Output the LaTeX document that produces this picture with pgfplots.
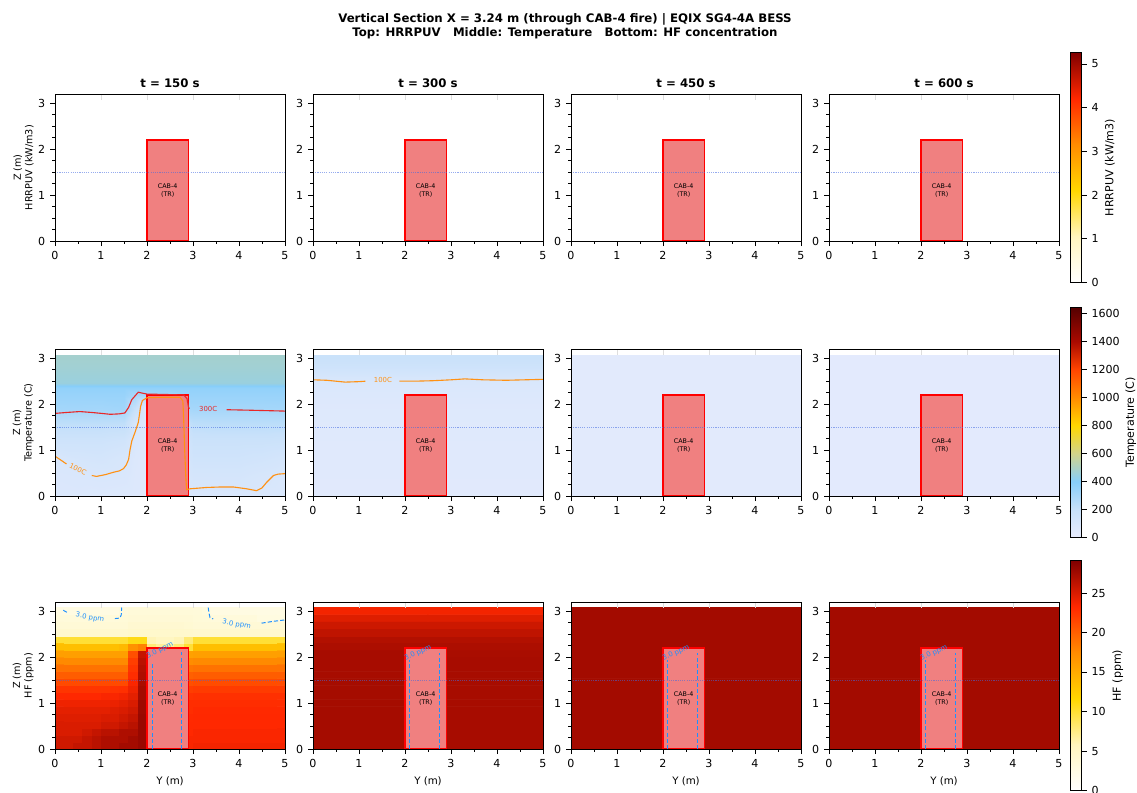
\documentclass[border=0pt]{standalone}
\usepackage{fontspec}
\setmainfont{DejaVu Sans}
\usepackage{pgfplots}
\pgfplotsset{compat=1.18}

\definecolor{lcoral}{RGB}{240,128,128}
\definecolor{hline}{RGB}{65,105,225}
\definecolor{cred}{RGB}{232,40,40}
\definecolor{corange}{RGB}{255,145,20}
\definecolor{dblue}{RGB}{30,144,255}
\definecolor{gridc}{RGB}{222,222,222}

\pgfplotsset{
  colormap={hfmap}{rgb255(0cm)=(255,255,255) rgb255(1cm)=(255,251,224) rgb255(2cm)=(255,245,190) rgb255(4cm)=(255,215,0) rgb255(6cm)=(255,140,0) rgb255(8cm)=(255,40,0) rgb255(10cm)=(128,0,0)},
  colormap={tempmap}{rgb255(0cm)=(232,236,253) rgb255(2cm)=(200,225,250) rgb255(4cm)=(135,206,250) rgb255(6cm)=(210,212,140) rgb255(8cm)=(255,215,0) rgb255(10cm)=(255,140,0) rgb255(12cm)=(255,69,0) rgb255(14cm)=(170,10,0) rgb255(16.43cm)=(85,0,0)},
  panel/.style={
    scale only axis, width=165.6bp, height=105.98bp,
    xmin=0, xmax=5, ymin=0, ymax=3.2,
    anchor=north west, axis on top,
    xtick={0,1,2,3,4,5}, ytick={0,1,2,3},
    minor x tick num=1, minor y tick num=3,
    tick align=outside, tick pos=left,
    major tick length=3.5bp, minor tick length=2bp,
    tick style={black, line width=0.6bp},
    axis line style={line width=0.6bp},
    tick label style={font=\fontsize{8}{9.6}\selectfont},
    /pgf/number format/assume math mode=true,
    /pgf/number format/1000 sep={},
    every axis y label/.style={at={(axis description cs:-0.092,0.5)}, rotate=90, anchor=south, align=center, inner sep=0pt, font=\fontsize{7}{8.2}\selectfont},
    every axis x label/.style={at={(axis description cs:0.5,0)}, anchor=north, yshift=-19.4bp, inner sep=0pt, font=\fontsize{7.4}{9}\selectfont},
    every axis title/.style={at={(0.5,1)}, anchor=south, yshift=4bp, inner sep=0pt, font=\bfseries\fontsize{8.5}{10}\selectfont},
  },
  cbar/.style={
    colorbar,
    colorbar style={
      at={([xshift=6.5bp]parent axis.east)}, anchor=west,
      scale only axis, width=7.92bp, height=165.6bp,
      yticklabel pos=right, ytick pos=right,
      tick align=outside, major tick length=3.5bp,
      tick style={black, line width=0.6bp},
      axis line style={line width=0.6bp},
      tick label style={font=\fontsize{8}{9.6}\selectfont},
      /pgf/number format/assume math mode=true,
      /pgf/number format/1000 sep={},
      #1
    },
  },
}

\newcommand{\panelcommon}{%
  \addplot[gridc, line width=0.6bp, unbounded coords=jump, forget plot] coordinates {(1,3.08) (1,3.2) (1,nan) (2,3.08) (2,3.2) (2,nan) (3,3.08) (3,3.2) (3,nan) (4,3.08) (4,3.2)};
  \addplot[fill=lcoral, draw=red, line width=1.1bp, forget plot] coordinates {(2,0) (2,2.2) (2.9,2.2) (2.9,0)} -- cycle;
  \node[font=\fontsize{4.6}{5.4}\selectfont, align=center, text=black] at (axis cs:2.45,1.1) {CAB-4\\(TR)};
  \addplot[hline, opacity=0.55, line width=0.6bp, dash pattern=on 0.8bp off 0.8bp, forget plot] coordinates {(0,1.5) (5,1.5)};
}
\newcommand{\hfbox}{%
  \addplot[dblue, line width=0.65bp, dash pattern=on 3bp off 1.5bp, forget plot] coordinates {(2.10,0) (2.10,1.93)};
  \addplot[dblue, line width=0.65bp, dash pattern=on 3bp off 1.5bp, forget plot] coordinates {(2.74,0) (2.74,2.09)};
  \node[text=dblue, rotate=24, font=\fontsize{5}{6}\selectfont] at (axis cs:2.28,2.09) {3.0 ppm};
}

\begin{document}
\begin{tikzpicture}
\path[use as bounding box] (0,0) rectangle (818.64bp,570.96bp);
\node[anchor=base, font=\bfseries\fontsize{8.5}{10}\selectfont] at (406.8bp,554.5bp) {Vertical Section X = 3.24 m (through CAB-4 fire) | EQIX SG4-4A BESS};
\node[anchor=base, font=\bfseries\fontsize{8.5}{10}\selectfont] at (406.8bp,544.5bp) {Top: HRRPUV\hspace{1.04em}Middle: Temperature\hspace{1.04em}Bottom: HF concentration};

% ================= ROW 1 : HRRPUV =================
\begin{axis}[panel, at={(39.6bp,503.28bp)}, title={t = 150 s}, ylabel={Z (m)\\HRRPUV (kW/m3)}, colormap name=hfmap, point meta min=0, point meta max=5.26]
\addplot[matrix plot*, mesh/cols=2, point meta=explicit, forget plot] table[row sep=\\, header=false, x expr={1.25+2.5*mod(\coordindex,2)}, y expr={0.77+1.54*floor(\coordindex/2+0.001)}, meta index=0] {0\\ 0\\ 0\\ 0\\};
\panelcommon
\end{axis}
\begin{axis}[panel, at={(225.36bp,503.28bp)}, title={t = 300 s}, colormap name=hfmap, point meta min=0, point meta max=5.26]
\addplot[matrix plot*, mesh/cols=2, point meta=explicit, forget plot] table[row sep=\\, header=false, x expr={1.25+2.5*mod(\coordindex,2)}, y expr={0.77+1.54*floor(\coordindex/2+0.001)}, meta index=0] {0\\ 0\\ 0\\ 0\\};
\panelcommon
\end{axis}
\begin{axis}[panel, at={(411.12bp,503.28bp)}, title={t = 450 s}, colormap name=hfmap, point meta min=0, point meta max=5.26]
\addplot[matrix plot*, mesh/cols=2, point meta=explicit, forget plot] table[row sep=\\, header=false, x expr={1.25+2.5*mod(\coordindex,2)}, y expr={0.77+1.54*floor(\coordindex/2+0.001)}, meta index=0] {0\\ 0\\ 0\\ 0\\};
\panelcommon
\end{axis}
\begin{axis}[panel, at={(596.88bp,503.28bp)}, title={t = 600 s}, colormap name=hfmap, point meta min=0, point meta max=5.26,
  cbar={ytick={0,1,2,3,4,5}, every axis y label/.style={at={(axis description cs:3.55,0.5)}, rotate=90, anchor=center, font=\fontsize{8}{9.6}\selectfont}, ylabel={HRRPUV (kW/m3)}}]
\addplot[matrix plot*, mesh/cols=2, point meta=explicit, forget plot] table[row sep=\\, header=false, x expr={1.25+2.5*mod(\coordindex,2)}, y expr={0.77+1.54*floor(\coordindex/2+0.001)}, meta index=0] {0\\ 0\\ 0\\ 0\\};
\panelcommon
\end{axis}

% ================= ROW 2 : Temperature =================
\begin{axis}[panel, at={(39.6bp,319.68bp)}, ylabel={Z (m)\\Temperature (C)}, colormap name=tempmap, point meta min=0, point meta max=1643]
\addplot[surf, shader=interp, mesh/cols=13, point meta=explicit, forget plot] table[row sep=\\, meta index=2] {
x y c\\
0 0 80\\ 0.5 0 80\\ 1 0 75\\ 1.5 0 70\\ 1.75 0 65\\ 2 0 60\\ 2.5 0 50\\ 2.9 0 90\\ 3 0 90\\ 3.5 0 90\\ 4 0 90\\ 4.5 0 90\\ 5 0 90\\
0 0.4 85\\ 0.5 0.4 90\\ 1 0.4 95\\ 1.5 0.4 90\\ 1.75 0.4 70\\ 2 0.4 60\\ 2.5 0.4 50\\ 2.9 0.4 110\\ 3 0.4 120\\ 3.5 0.4 120\\ 4 0.4 120\\ 4.5 0.4 105\\ 5 0.4 95\\
0 0.8 100\\ 0.5 0.8 118\\ 1 0.8 125\\ 1.5 0.8 105\\ 1.75 0.8 75\\ 2 0.8 60\\ 2.5 0.8 50\\ 2.9 0.8 130\\ 3 0.8 150\\ 3.5 0.8 150\\ 4 0.8 150\\ 4.5 0.8 140\\ 5 0.8 125\\
0 1.2 160\\ 0.5 1.2 160\\ 1 1.2 160\\ 1.5 1.2 145\\ 1.75 1.2 90\\ 2 1.2 60\\ 2.5 1.2 50\\ 2.9 1.2 155\\ 3 1.2 180\\ 3.5 1.2 180\\ 4 1.2 180\\ 4.5 1.2 180\\ 5 1.2 175\\
0 1.6 230\\ 0.5 1.6 230\\ 1 1.6 230\\ 1.5 1.6 225\\ 1.75 1.6 115\\ 2 1.6 60\\ 2.5 1.6 50\\ 2.9 1.6 210\\ 3 1.6 235\\ 3.5 1.6 240\\ 4 1.6 240\\ 4.5 1.6 240\\ 5 1.6 240\\
0 1.9 310\\ 0.5 1.9 312\\ 1 1.9 310\\ 1.5 1.9 318\\ 1.75 1.9 200\\ 2 1.9 60\\ 2.5 1.9 50\\ 2.9 1.9 300\\ 3 1.9 305\\ 3.5 1.9 305\\ 4 1.9 306\\ 4.5 1.9 307\\ 5 1.9 308\\
0 2.2 345\\ 0.5 2.2 345\\ 1 2.2 345\\ 1.5 2.2 345\\ 1.75 2.2 300\\ 2 2.2 300\\ 2.5 2.2 320\\ 2.9 2.2 345\\ 3 2.2 345\\ 3.5 2.2 345\\ 4 2.2 345\\ 4.5 2.2 345\\ 5 2.2 345\\
0 2.35 365\\ 0.5 2.35 365\\ 1 2.35 365\\ 1.5 2.35 365\\ 1.75 2.35 365\\ 2 2.35 365\\ 2.5 2.35 365\\ 2.9 2.35 365\\ 3 2.35 365\\ 3.5 2.35 365\\ 4 2.35 365\\ 4.5 2.35 365\\ 5 2.35 365\\
0 2.45 450\\ 0.5 2.45 450\\ 1 2.45 450\\ 1.5 2.45 450\\ 1.75 2.45 450\\ 2 2.45 450\\ 2.5 2.45 450\\ 2.9 2.45 450\\ 3 2.45 450\\ 3.5 2.45 450\\ 4 2.45 450\\ 4.5 2.45 450\\ 5 2.45 450\\
0 2.8 470\\ 0.5 2.8 470\\ 1 2.8 470\\ 1.5 2.8 470\\ 1.75 2.8 470\\ 2 2.8 470\\ 2.5 2.8 470\\ 2.9 2.8 470\\ 3 2.8 470\\ 3.5 2.8 470\\ 4 2.8 470\\ 4.5 2.8 470\\ 5 2.8 470\\
0 3.08 480\\ 0.5 3.08 480\\ 1 3.08 480\\ 1.5 3.08 480\\ 1.75 3.08 480\\ 2 3.08 480\\ 2.5 3.08 480\\ 2.9 3.08 480\\ 3 3.08 480\\ 3.5 3.08 480\\ 4 3.08 480\\ 4.5 3.08 480\\ 5 3.08 480\\
};
\panelcommon
\addplot[cred, line width=0.8bp, forget plot] coordinates {(0,1.80) (0.25,1.82) (0.54,1.84) (0.8,1.82) (1.01,1.80) (1.2,1.78) (1.4,1.79) (1.52,1.81) (1.6,1.93) (1.67,2.10) (1.74,2.18) (1.81,2.26) (1.9,2.24) (2.0,2.22) (2.45,2.21) (2.8,2.2) (2.87,2.12) (2.9,1.95) (2.92,1.9)};
\addplot[cred, line width=0.8bp, forget plot] coordinates {(3.73,1.88) (4.2,1.87) (4.6,1.86) (5,1.85)};
\node[text=cred, font=\fontsize{5}{6}\selectfont] at (axis cs:3.33,1.9) {300C};
\addplot[corange, line width=0.8bp, forget plot] coordinates {(0,0.87) (0.12,0.79) (0.25,0.70)};
\addplot[corange, line width=0.8bp, forget plot] coordinates {(0.8,0.45) (0.9,0.43) (1.1,0.47) (1.27,0.52) (1.4,0.55) (1.49,0.6) (1.55,0.68) (1.6,0.8) (1.63,1.0) (1.67,1.2) (1.74,1.39) (1.81,1.6) (1.84,1.8) (1.86,1.95) (1.9,2.08) (2.0,2.14) (2.3,2.15) (2.6,2.15) (2.72,2.15) (2.78,2.07) (2.8,1.6) (2.82,1.0) (2.84,0.5) (2.86,0.14) (2.93,0.16) (3.3,0.19) (3.6,0.2) (3.88,0.2) (4.17,0.16) (4.38,0.12) (4.5,0.18) (4.6,0.3) (4.75,0.45) (4.85,0.48) (5,0.49)};
\node[text=corange, rotate=-25, font=\fontsize{5}{6}\selectfont] at (axis cs:0.5,0.58) {100C};
\end{axis}

\begin{axis}[panel, at={(225.36bp,319.68bp)}, colormap name=tempmap, point meta min=0, point meta max=1643]
\addplot[surf, shader=interp, mesh/cols=2, point meta=explicit, forget plot] table[row sep=\\, meta index=2] {
x y c\\
0 0 45\\ 5 0 45\\ 0 1.0 50\\ 5 1.0 50\\ 0 2.0 65\\ 5 2.0 65\\ 0 2.3 80\\ 5 2.3 80\\ 0 2.53 100\\ 5 2.53 100\\ 0 2.7 140\\ 5 2.7 140\\ 0 2.9 175\\ 5 2.9 175\\ 0 3.08 190\\ 5 3.08 190\\
};
\panelcommon
\addplot[corange, line width=0.8bp, forget plot] coordinates {(0,2.53) (0.3,2.52) (0.7,2.48) (1.0,2.49) (1.14,2.50)};
\addplot[corange, line width=0.8bp, forget plot] coordinates {(1.88,2.50) (2.2,2.50) (2.6,2.51) (3.0,2.53) (3.3,2.55) (3.7,2.53) (4.2,2.52) (5,2.54)};
\node[text=corange, font=\fontsize{5}{6}\selectfont] at (axis cs:1.52,2.52) {100C};
\end{axis}

\begin{axis}[panel, at={(411.12bp,319.68bp)}, colormap name=tempmap, point meta min=0, point meta max=1643]
\addplot[surf, shader=interp, mesh/cols=2, point meta=explicit, forget plot] table[row sep=\\, meta index=2] {
x y c\\
0 0 35\\ 5 0 35\\ 0 3.08 40\\ 5 3.08 40\\
};
\panelcommon
\end{axis}

\begin{axis}[panel, at={(596.88bp,319.68bp)}, colormap name=tempmap, point meta min=0, point meta max=1643,
  cbar={ytick={0,200,400,600,800,1000,1200,1400,1600}, every axis y label/.style={at={(axis description cs:5.45,0.5)}, rotate=90, anchor=center, font=\fontsize{8}{9.6}\selectfont}, ylabel={Temperature (C)}}]
\addplot[surf, shader=interp, mesh/cols=2, point meta=explicit, forget plot] table[row sep=\\, meta index=2] {
x y c\\
0 0 28\\ 5 0 28\\ 0 3.08 32\\ 5 3.08 32\\
};
\panelcommon
\end{axis}

% ================= ROW 3 : HF =================
\begin{axis}[panel, at={(39.6bp,137.52bp)}, ylabel={Z (m)\\HF (ppm)}, xlabel={Y (m)}, colormap name=hfmap, point meta min=0, point meta max=29.1]
\addplot[matrix plot*, mesh/cols=25, point meta=explicit, forget plot] table[row sep=\\, header=false, x expr={0.1+0.2*mod(\coordindex,25)}, y expr={0.077+0.154*floor(\coordindex/25+0.001)}, meta index=0] {
25.5\\ 25.5\\ 26\\ 26\\ 26.5\\ 27\\ 27\\ 27.5\\ 27.5\\ 28\\ 0\\ 0\\ 0\\ 0\\ 23.5\\ 23.8\\ 23.8\\ 23.8\\ 23.8\\ 23.8\\ 23.8\\ 23.8\\ 23.8\\ 23.8\\ 23.8\\
25.5\\ 25.5\\ 25.5\\ 26\\ 26.5\\ 27\\ 27\\ 27\\ 27.5\\ 28\\ 0\\ 0\\ 0\\ 0\\ 23.5\\ 23.5\\ 23.5\\ 23.5\\ 23.5\\ 23.5\\ 23.5\\ 23.5\\ 23.5\\ 23.5\\ 23.5\\
25\\ 25\\ 25\\ 25.5\\ 26\\ 26.5\\ 26.5\\ 27\\ 27\\ 28\\ 0\\ 0\\ 0\\ 0\\ 23.3\\ 23.5\\ 23.5\\ 23.5\\ 23.5\\ 23.5\\ 23.5\\ 23.5\\ 23.5\\ 23.5\\ 23.5\\
25\\ 25\\ 25\\ 25\\ 25\\ 25.5\\ 25.5\\ 26\\ 26.5\\ 28\\ 0\\ 0\\ 0\\ 0\\ 23.3\\ 23.3\\ 23.3\\ 23.3\\ 23.3\\ 23.3\\ 23.3\\ 23.3\\ 23.3\\ 23.3\\ 23.3\\
24.8\\ 24.8\\ 24.8\\ 24.8\\ 24.8\\ 25\\ 25\\ 25.5\\ 26\\ 28\\ 0\\ 0\\ 0\\ 0\\ 23.2\\ 23.3\\ 23.3\\ 23.3\\ 23.3\\ 23.3\\ 23.3\\ 23.3\\ 23.3\\ 23.3\\ 23.3\\
24.5\\ 24.5\\ 24.5\\ 24.5\\ 24.5\\ 24.5\\ 24.8\\ 25\\ 25.5\\ 27.8\\ 0\\ 0\\ 0\\ 0\\ 23\\ 23.2\\ 23.2\\ 23.2\\ 23.2\\ 23.2\\ 23.2\\ 23.2\\ 23.2\\ 23.2\\ 23.2\\
24\\ 24\\ 24\\ 24\\ 24\\ 24\\ 24.2\\ 24.5\\ 25\\ 27.8\\ 0\\ 0\\ 0\\ 0\\ 23\\ 23\\ 23\\ 23\\ 23\\ 23\\ 23\\ 23\\ 23\\ 23\\ 23\\
23.3\\ 23.3\\ 23.3\\ 23.3\\ 23.3\\ 23.5\\ 23.5\\ 23.8\\ 24.5\\ 27.5\\ 0\\ 0\\ 0\\ 0\\ 22.7\\ 22.8\\ 22.8\\ 22.8\\ 22.8\\ 22.8\\ 22.8\\ 22.8\\ 22.8\\ 22.8\\ 22.8\\
22.5\\ 22.5\\ 22.5\\ 22.5\\ 22.5\\ 22.5\\ 22.7\\ 22.8\\ 24\\ 27.5\\ 0\\ 0\\ 0\\ 0\\ 22\\ 22.2\\ 22.2\\ 22.2\\ 22.2\\ 22.2\\ 22.2\\ 22.2\\ 22.2\\ 22.2\\ 22.2\\
21.3\\ 21.3\\ 21.3\\ 21.3\\ 21.3\\ 21.3\\ 21.3\\ 21.3\\ 23.5\\ 27.2\\ 0\\ 0\\ 0\\ 0\\ 21\\ 21.2\\ 21.2\\ 21.2\\ 21.2\\ 21.2\\ 21.2\\ 21.2\\ 21.2\\ 21.2\\ 21.2\\
20.2\\ 20.2\\ 20.2\\ 20.2\\ 20.2\\ 20.2\\ 20.2\\ 20.2\\ 23\\ 27\\ 0\\ 0\\ 0\\ 0\\ 20\\ 20.2\\ 20.2\\ 20.2\\ 20.2\\ 20.2\\ 20.2\\ 20.2\\ 20.2\\ 20.2\\ 20.2\\
19\\ 19\\ 19\\ 19\\ 19\\ 19\\ 19\\ 19\\ 22.5\\ 26.8\\ 0\\ 0\\ 0\\ 0\\ 18.8\\ 19\\ 19\\ 19\\ 19\\ 19\\ 19\\ 19\\ 19\\ 19\\ 19\\
17.6\\ 17.6\\ 17.6\\ 17.6\\ 17.6\\ 17.6\\ 17.6\\ 17.6\\ 22\\ 26.5\\ 0\\ 0\\ 0\\ 0\\ 17.4\\ 17.6\\ 17.6\\ 17.6\\ 17.6\\ 17.6\\ 17.6\\ 17.6\\ 17.6\\ 17.6\\ 17.6\\
16\\ 16\\ 16\\ 16\\ 16\\ 16\\ 16\\ 16\\ 21\\ 26\\ 0\\ 0\\ 0\\ 0\\ 15.8\\ 16\\ 16\\ 16\\ 16\\ 16\\ 16\\ 16\\ 16\\ 16\\ 16\\
13.5\\ 13.5\\ 13.5\\ 13.5\\ 13.5\\ 13.5\\ 13.5\\ 14\\ 17\\ 18\\ 8\\ 7\\ 7\\ 8\\ 10\\ 13.5\\ 13.5\\ 13.5\\ 13.5\\ 13.5\\ 13.5\\ 13.5\\ 13.5\\ 13.5\\ 13.5\\
10\\ 10\\ 10\\ 10\\ 10\\ 10\\ 10\\ 10\\ 11\\ 11\\ 6\\ 5.5\\ 5.5\\ 6\\ 8\\ 10\\ 10\\ 10\\ 10\\ 10\\ 10\\ 10\\ 10\\ 10\\ 10\\
4.3\\ 4.3\\ 4.3\\ 4.3\\ 4.3\\ 4.3\\ 4.3\\ 4.3\\ 4.6\\ 4.6\\ 4.6\\ 4.6\\ 4.6\\ 4.6\\ 4.5\\ 4.3\\ 4.3\\ 4.3\\ 4.3\\ 4.3\\ 4.3\\ 4.3\\ 4.3\\ 4.3\\ 4.3\\
3.8\\ 3.8\\ 3.8\\ 3.8\\ 3.8\\ 3.8\\ 3.8\\ 3.8\\ 4.2\\ 4.2\\ 4.2\\ 4.2\\ 4.2\\ 4.2\\ 4\\ 3.8\\ 3.8\\ 3.8\\ 3.8\\ 3.8\\ 3.8\\ 3.8\\ 3.8\\ 3.8\\ 3.8\\
3.4\\ 3.4\\ 3.4\\ 3.4\\ 3.4\\ 3.4\\ 3.4\\ 3.6\\ 3.8\\ 3.8\\ 3.8\\ 3.8\\ 3.8\\ 3.8\\ 3.8\\ 3.6\\ 3.5\\ 3.3\\ 3.3\\ 3.3\\ 3.3\\ 3.3\\ 2.9\\ 2.9\\ 2.9\\
2.7\\ 2.7\\ 2.7\\ 2.7\\ 2.7\\ 2.7\\ 2.7\\ 3.2\\ 3.5\\ 3.5\\ 3.5\\ 3.5\\ 3.5\\ 3.5\\ 3.5\\ 3.4\\ 3.1\\ 2.7\\ 2.7\\ 2.7\\ 2.7\\ 2.7\\ 2.6\\ 2.6\\ 2.6\\
};
\panelcommon
\addplot[dblue, line width=0.7bp, dash pattern=on 3bp off 1.5bp, forget plot] coordinates {(0.18,3.02) (0.27,2.97)};
\addplot[dblue, line width=0.7bp, dash pattern=on 3bp off 1.5bp, forget plot] coordinates {(1.30,2.84) (1.41,2.85) (1.44,2.92) (1.45,3.08)};
\addplot[dblue, line width=0.7bp, dash pattern=on 3bp off 1.5bp, forget plot] coordinates {(3.33,3.08) (3.35,2.95) (3.37,2.86) (3.44,2.83)};
\addplot[dblue, line width=0.7bp, dash pattern=on 3bp off 1.5bp, forget plot] coordinates {(4.49,2.74) (4.75,2.78) (5,2.81)};
\addplot[dblue, line width=0.65bp, dash pattern=on 3bp off 1.5bp, forget plot] coordinates {(2.12,0) (2.12,1.88)};
\addplot[dblue, line width=0.65bp, dash pattern=on 3bp off 1.5bp, forget plot] coordinates {(2.75,0) (2.75,2.12)};
\node[text=dblue, rotate=-10, font=\fontsize{5}{6}\selectfont] at (axis cs:0.76,2.86) {3.0 ppm};
\node[text=dblue, rotate=-10, font=\fontsize{5}{6}\selectfont] at (axis cs:3.95,2.71) {3.0 ppm};
\node[text=dblue, rotate=26, font=\fontsize{5}{6}\selectfont] at (axis cs:2.28,2.15) {3.0 ppm};
\end{axis}

\begin{axis}[panel, at={(225.36bp,137.52bp)}, xlabel={Y (m)}, colormap name=hfmap, point meta min=0, point meta max=29.1]
\addplot[matrix plot*, mesh/cols=2, point meta=explicit, forget plot] table[row sep=\\, header=false, x expr={1.25+2.5*mod(\coordindex,2)}, y expr={0.077+0.154*floor(\coordindex/2+0.001)}, meta index=0] {
27.4\\ 27.3\\ 27.4\\ 27.3\\ 27.4\\ 27.3\\ 27.4\\ 27.3\\ 27.4\\ 27.3\\
27.4\\ 27.3\\ 27.4\\ 27.3\\ 27.4\\ 27.3\\ 27.4\\ 27.3\\ 27.4\\ 27.3\\
27.3\\ 27.3\\ 27.3\\ 27.3\\ 27.3\\ 27.3\\ 27.3\\ 27.2\\ 27.1\\ 27.1\\
26.8\\ 26.8\\ 26.2\\ 26.2\\ 25.6\\ 25.6\\ 24.8\\ 24.8\\ 23.8\\ 23.8\\
};
\panelcommon
\hfbox
\end{axis}

\begin{axis}[panel, at={(411.12bp,137.52bp)}, xlabel={Y (m)}, colormap name=hfmap, point meta min=0, point meta max=29.1]
\addplot[matrix plot*, mesh/cols=2, point meta=explicit, forget plot] table[row sep=\\, header=false, x expr={1.25+2.5*mod(\coordindex,2)}, y expr={0.77+1.54*floor(\coordindex/2+0.001)}, meta index=0] {27.5\\ 27.5\\ 27.5\\ 27.5\\};
\panelcommon
\hfbox
\end{axis}

\begin{axis}[panel, at={(596.88bp,137.52bp)}, xlabel={Y (m)}, colormap name=hfmap, point meta min=0, point meta max=29.1,
  cbar={ytick={0,5,10,15,20,25}, every axis y label/.style={at={(axis description cs:4.27,0.5)}, rotate=90, anchor=center, font=\fontsize{8}{9.6}\selectfont}, ylabel={HF (ppm)}}]
\addplot[matrix plot*, mesh/cols=2, point meta=explicit, forget plot] table[row sep=\\, header=false, x expr={1.25+2.5*mod(\coordindex,2)}, y expr={0.77+1.54*floor(\coordindex/2+0.001)}, meta index=0] {27.5\\ 27.5\\ 27.5\\ 27.5\\};
\panelcommon
\hfbox
\end{axis}
\end{tikzpicture}
\end{document}
